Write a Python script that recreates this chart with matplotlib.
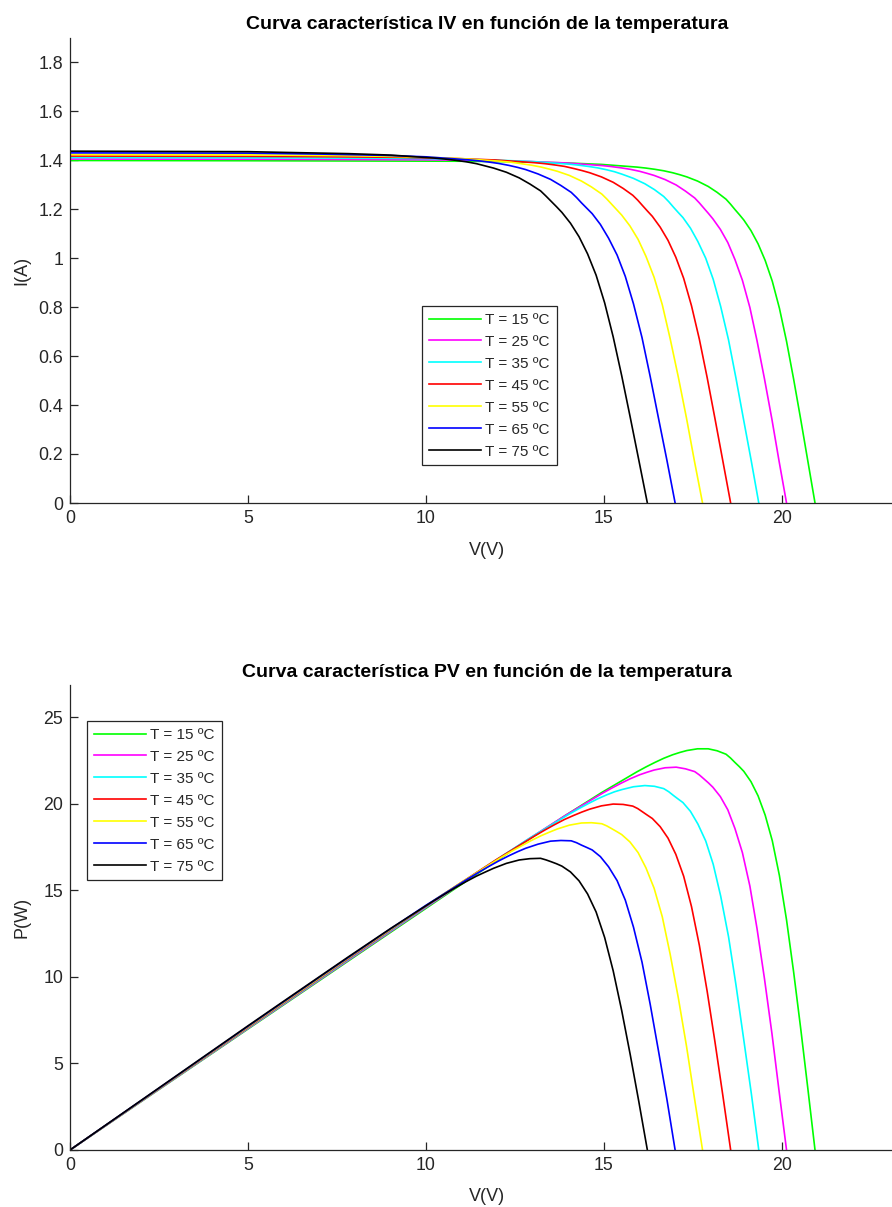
import numpy as np
import matplotlib.pyplot as plt
from matplotlib.ticker import FormatStrFormatter

plt.rcParams['font.family'] = ['Liberation Sans', 'DejaVu Sans']

# curvas IV (tension en V, corriente en A)
temps = [15, 25, 35, 45, 55, 65, 75]
colors = ['#00ff00', '#ff00ff', '#00ffff', '#ff0000', '#ffff00', '#0000ff', '#000000']

v_15 = [20.93, 20.73, 20.53, 20.33, 20.13, 19.93, 19.73, 19.53, 19.33, 19.13, 18.93, 18.805, 18.68,
        18.555, 18.43, 18.18, 17.93, 17.63, 17.33, 17.13, 16.93, 16.68, 16.43, 16.18, 15.93, 14.93,
        13.93, 12.43, 10.93, 5, 0]
i_15 = [0, 0.170, 0.340, 0.505, 0.660, 0.795, 0.905, 0.990, 1.058, 1.112, 1.155, 1.177, 1.198,
        1.220, 1.240, 1.268, 1.292, 1.314, 1.331, 1.340, 1.348, 1.356, 1.362, 1.367, 1.371, 1.382,
        1.388, 1.393, 1.395, 1.397, 1.398]

v_25 = [20.13, 19.92, 19.72, 19.51, 19.30, 19.10, 18.89, 18.68, 18.48, 18.27, 18.06, 17.935, 17.81,
        17.68, 17.55, 17.29, 17.03, 16.72, 16.41, 16.20, 16.00, 15.74, 15.48, 15.22, 14.97, 13.93,
        12.90, 11.35, 9.80, 5, 0]
i_25 = [0, 0.171, 0.341, 0.507, 0.663, 0.798, 0.909, 0.994, 1.063, 1.117, 1.160, 1.182, 1.203,
        1.225, 1.245, 1.273, 1.298, 1.320, 1.337, 1.346, 1.354, 1.362, 1.368, 1.373, 1.377, 1.388,
        1.394, 1.399, 1.401, 1.403, 1.404]

v_35 = [19.35, 19.14, 18.92, 18.71, 18.50, 18.28, 18.07, 17.86, 17.64, 17.43, 17.22, 17.08, 16.95,
        16.82, 16.68, 16.42, 16.15, 15.83, 15.51, 15.30, 15.08, 14.82, 14.55, 14.28, 14.02, 12.95,
        11.88, 10.28, 8.68, 5, 0]
i_35 = [0, 0.171, 0.343, 0.509, 0.666, 0.802, 0.913, 0.999, 1.067, 1.122, 1.165, 1.187, 1.208,
        1.230, 1.251, 1.279, 1.303, 1.325, 1.342, 1.352, 1.360, 1.368, 1.374, 1.379, 1.383, 1.394,
        1.400, 1.405, 1.407, 1.409, 1.410]

v_45 = [18.56, 18.34, 18.12, 17.90, 17.68, 17.46, 17.24, 17.02, 16.80, 16.58, 16.36, 16.22, 16.09,
        15.95, 15.81, 15.54, 15.26, 14.93, 14.60, 14.38, 14.16, 13.89, 13.61, 13.34, 13.06, 11.96,
        10.86, 9.21, 7.56, 5, 0]
i_45 = [0, 0.172, 0.344, 0.512, 0.669, 0.805, 0.917, 1.003, 1.072, 1.126, 1.170, 1.192, 1.213,
        1.236, 1.256, 1.284, 1.309, 1.331, 1.348, 1.357, 1.365, 1.374, 1.380, 1.385, 1.389, 1.400,
        1.406, 1.411, 1.413, 1.415, 1.416]

v_55 = [17.77, 17.54, 17.32, 17.09, 16.86, 16.64, 16.41, 16.18, 15.96, 15.73, 15.50, 15.36, 15.22,
        15.08, 14.94, 14.65, 14.37, 14.03, 13.69, 13.46, 13.24, 12.96, 12.67, 12.39, 12.10, 10.97,
        9.84, 8.14, 5, 0]
i_55 = [0, 0.173, 0.346, 0.514, 0.671, 0.809, 0.921, 1.007, 1.076, 1.131, 1.175, 1.197, 1.219,
        1.241, 1.261, 1.290, 1.314, 1.337, 1.354, 1.363, 1.371, 1.379, 1.385, 1.391, 1.395, 1.406,
        1.412, 1.417, 1.421, 1.422]

v_65 = [17.00, 16.77, 16.53, 16.30, 16.07, 15.83, 15.60, 15.37, 15.13, 14.90, 14.67, 14.52, 14.37,
        14.23, 14.08, 13.79, 13.50, 13.15, 12.80, 12.57, 12.33, 12.04, 11.75, 11.46, 11.17, 10.00,
        8.83, 7.08, 5, 0]
i_65 = [0, 0.174, 0.348, 0.516, 0.675, 0.813, 0.925, 1.012, 1.081, 1.137, 1.181, 1.203, 1.225,
        1.247, 1.268, 1.296, 1.321, 1.343, 1.361, 1.370, 1.378, 1.386, 1.392, 1.397, 1.401, 1.413,
        1.419, 1.424, 1.428, 1.429]

v_75 = [16.22, 15.98, 15.74, 15.50, 15.26, 15.02, 14.78, 14.54, 14.30, 14.06, 13.82, 13.67, 13.52,
        13.37, 13.22, 12.92, 12.62, 12.26, 11.90, 11.66, 11.42, 11.12, 10.82, 10.52, 10.22, 9.02,
        7.82, 6.02, 5, 0]
i_75 = [0, 0.175, 0.349, 0.519, 0.678, 0.817, 0.930, 1.017, 1.087, 1.142, 1.186, 1.209, 1.231,
        1.253, 1.274, 1.302, 1.327, 1.350, 1.367, 1.376, 1.385, 1.393, 1.399, 1.404, 1.408, 1.420,
        1.426, 1.431, 1.434, 1.436]

volts = [v_15, v_25, v_35, v_45, v_55, v_65, v_75]
amps = [i_15, i_25, i_35, i_45, i_55, i_65, i_75]

x_ticks = [0, 5, 10, 15, 20]
iv_ticks = [0, 0.2, 0.4, 0.6, 0.8, 1, 1.2, 1.4, 1.6, 1.8]
pv_ticks = [0, 5, 10, 15, 20, 25]

axis_col = '#262626'
W, H = 892, 1207


def style_axes(ax, xlabel, ylabel, title, yticks):
    for s in ['top', 'right']:
        ax.spines[s].set_visible(False)
    for s in ['left', 'bottom']:
        ax.spines[s].set_color(axis_col)
        ax.spines[s].set_linewidth(0.9)
    ax.set_xticks(x_ticks)
    ax.set_yticks(yticks)
    ax.yaxis.set_major_formatter(FormatStrFormatter('%g'))
    ax.tick_params(direction='in', length=5.8, width=0.9, colors=axis_col,
                   labelsize=12.8, pad=5)
    ax.set_xlabel(xlabel, fontsize=13, color=axis_col)
    ax.set_ylabel(ylabel, fontsize=13, color=axis_col)
    ax.xaxis.set_label_coords(0.5, -0.101)
    ax.xaxis.label.set_va('center')
    ax.yaxis.set_label_coords(-0.0576, 0.5)
    ax.yaxis.label.set_va('center')
    ax.set_title(title, fontsize=14, fontweight='bold', pad=6)


fig = plt.figure(figsize=(W / 100, H / 100), dpi=100)
left = 70 / W
width = (904 - 70) / W
ax1 = fig.add_axes([left, 1 - 503 / H, width, (503 - 37.5) / H])
ax2 = fig.add_axes([left, 1 - 1150 / H, width, (1150 - 685) / H])

for t, c, v, i in zip(temps, colors, volts, amps):
    v = np.array(v)
    i = np.array(i)
    lab = f'T = {t} ºC'
    ax1.plot(v, i, color=c, lw=1.2, label=lab)
    ax2.plot(v, v * i, color=c, lw=1.2, label=lab)

ax1.set_xlim(0, 23.43)
ax1.set_ylim(0, 1.9)
ax2.set_xlim(0, 23.43)
ax2.set_ylim(0, 26.85)

style_axes(ax1, 'V(V)', 'I(A)', 'Curva característica IV en función de la temperatura', iv_ticks)
style_axes(ax2, 'V(V)', 'P(W)', 'Curva característica PV en función de la temperatura', pv_ticks)

leg_kw = dict(loc='upper left', fontsize=11, frameon=True, fancybox=False,
              handlelength=3.4, handletextpad=0.3, labelspacing=0.52,
              borderpad=0.45, borderaxespad=0)
l1 = ax1.legend(bbox_to_anchor=((422 - 70) / 834, (503 - 306) / 465.5), **leg_kw)
l2 = ax2.legend(bbox_to_anchor=((87 - 70) / 834, (1150 - 721) / 465), **leg_kw)
for lg in [l1, l2]:
    lg.get_frame().set_edgecolor(axis_col)
    lg.get_frame().set_linewidth(0.9)
    lg.get_frame().set_alpha(1)
    for txt in lg.get_texts():
        txt.set_color(axis_col)

fig.savefig('out.png', dpi=100)
